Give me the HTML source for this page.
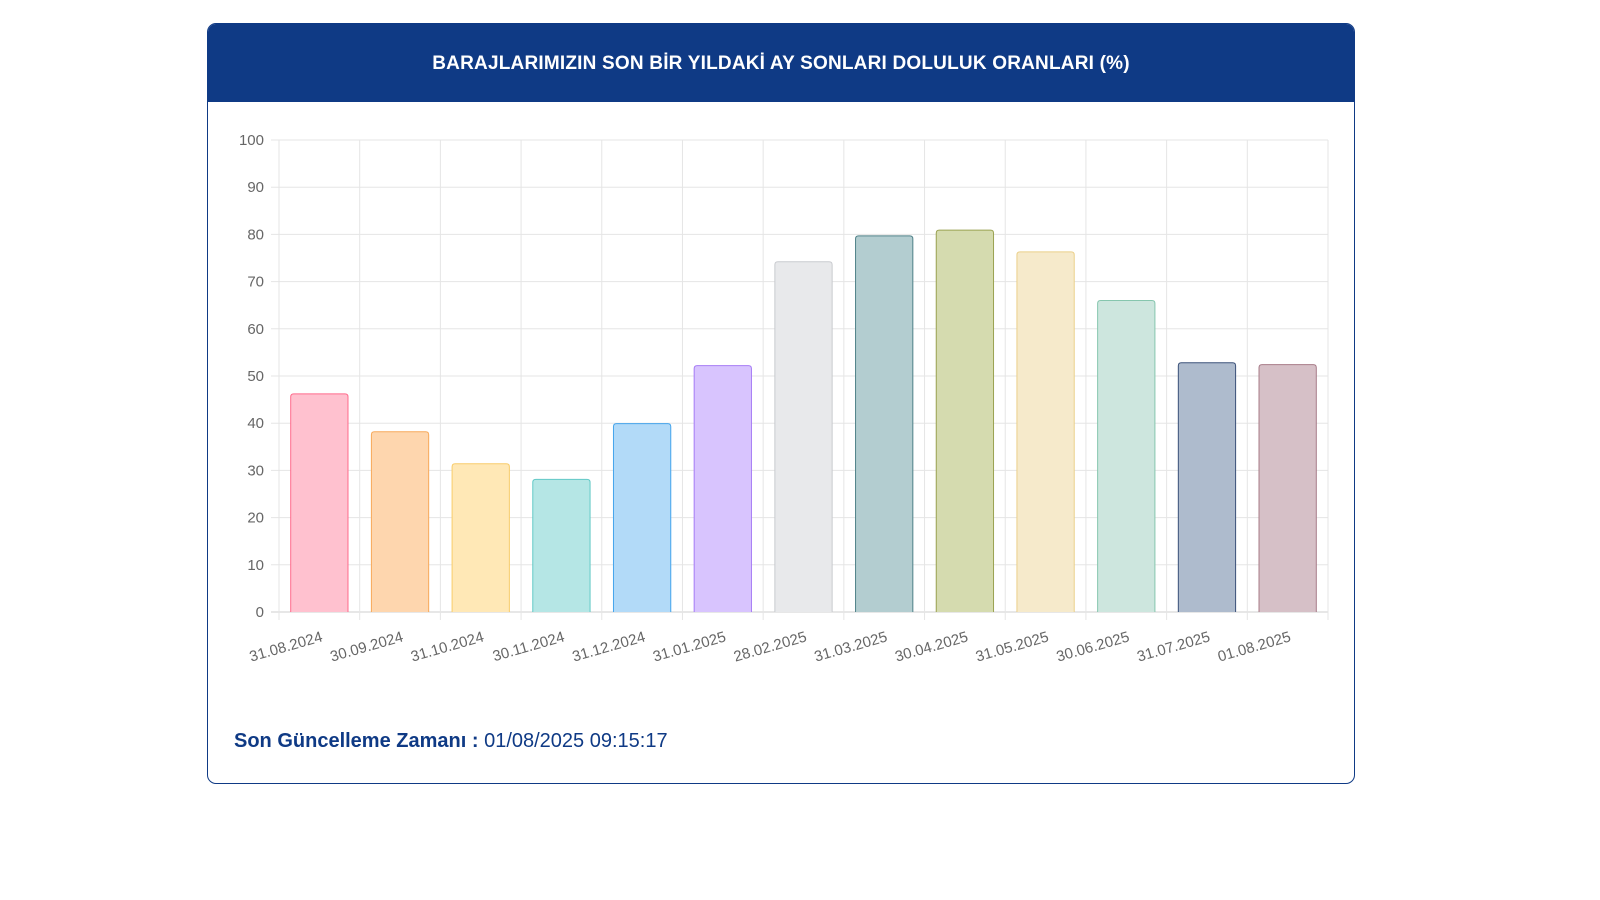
<!DOCTYPE html>
<html><head><meta charset="utf-8"><style>
body{margin:0;width:1600px;height:900px;background:#fff;font-family:"Liberation Sans",sans-serif;overflow:hidden;position:relative}
.card{position:absolute;left:207px;top:23px;width:1146px;height:759px;border:1px solid #0f3a85;border-radius:9px;overflow:hidden;background:#fff}
.hdr{height:78px;background:#0f3a85;color:#fff;font-weight:bold;font-size:19px;text-align:center;line-height:80px;letter-spacing:0.2px}
.upd{position:absolute;left:234px;top:730px;font-size:20px;color:#0f3a85}
svg{position:absolute;left:0;top:0}
</style></head><body>
<div class="card">
<div class="hdr">BARAJLARIMIZIN SON BİR YILDAKİ AY SONLARI DOLULUK ORANLARI (%)</div>
</div>
<svg id="c" width="1600" height="900"></svg>
<div class="upd"><b>Son Güncelleme Zamanı :</b> 01/08/2025 09:15:17</div>
<script>
const categories=["31.08.2024","30.09.2024","31.10.2024","30.11.2024","31.12.2024","31.01.2025","28.02.2025","31.03.2025","30.04.2025","31.05.2025","30.06.2025","31.07.2025","01.08.2025"];
const values=[46.2,38.2,31.4,28.1,39.9,52.2,74.2,79.7,80.9,76.3,66.0,52.8,52.4];
const yTicks=[0,10,20,30,40,50,60,70,80,90,100];
const fills=["#ffc1cf","#fed6ae","#ffe8b6","#b5e6e5","#b2daf8","#d8c4fe","#e8e9eb","#b3cdd0","#d5dbaf","#f6eacb","#cde6de","#aebbcd","#d6c0c7"];
const strokes=["#ff6b8c","#f7a95a","#f8cc6a","#62c9c6","#44a4ec","#a67cf5","#c9cbcf","#4f8188","#9aa251","#ebd08a","#86c6ae","#3a5078","#a77b88"];
const X0=279,X1=1328,Y0=612,Y1=140;
const n=categories.length,bw=(X1-X0)/n;
const y=v=>Y0-(v/100)*(Y0-Y1);
const xc=i=>X0+bw*(i+0.5);
const s=document.getElementById('c');const NS="http://www.w3.org/2000/svg";
function mk(t,a){const e=document.createElementNS(NS,t);for(const k in a)e.setAttribute(k,a[k]);s.appendChild(e);return e;}
yTicks.forEach(t=>{
 const l=mk('line',{x1:X0-8,x2:X1,y1:y(t),y2:y(t),stroke:t===0?'#cfcfcf':'#e5e5e5','stroke-width':1});
 
 
 const tx=mk('text',{x:X0-15,y:y(t)+5,'text-anchor':'end','font-size':15,fill:'#666','font-family':'Liberation Sans'});
 tx.textContent=t;
 
 
});
for(let i=0;i<=n;i++){
 const x=X0+bw*i;
 const l=mk('line',{x1:x,x2:x,y1:Y1,y2:Y0+8,stroke:'#e5e5e5','stroke-width':1});
 
 
}
categories.forEach((c,i)=>{
 const w=bw*0.71,x=xc(i)-w/2,top=y(values[i]);
 const r=mk('path',{d:`M${x},${Y0}V${top+3}Q${x},${top} ${x+3},${top}H${x+w-3}Q${x+w},${top} ${x+w},${top+3}V${Y0}`,fill:fills[i],stroke:strokes[i],'stroke-width':1});
 
 
 const tx=mk('text',{x:xc(i)+4,y:Y0+29,'text-anchor':'end','font-size':15,fill:'#666','font-family':'Liberation Sans',transform:`rotate(-16 ${xc(i)+4} ${Y0+29})`});
 tx.textContent=c;
 
 
});
</script>
</body></html>
